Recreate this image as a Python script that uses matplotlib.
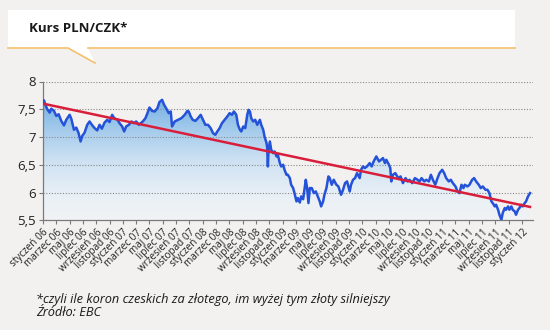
import numpy as np
import matplotlib
matplotlib.use("Agg")
import matplotlib.pyplot as plt
from matplotlib.colors import LinearSegmentedColormap
from matplotlib.patches import Polygon
from matplotlib.lines import Line2D

plt.rcParams['font.family'] = ['Open Sans', 'DejaVu Sans']

# PLN/CZK rate, x in months since January 2006
months = [0.0, 0.15, 0.35, 0.65, 1.0, 1.25, 1.65, 2.0, 2.35, 2.75, 3.15, 3.5, 4.0, 4.25,
          4.65, 5.0, 5.35, 5.65, 5.9, 6.25, 6.65, 7.0, 7.35, 7.75, 8.15, 8.5, 8.85, 9.25,
          9.65, 10.0, 10.4, 10.7, 11.2, 11.5, 11.9, 12.2, 12.5, 12.9, 13.3, 13.7, 14.0,
          14.4, 14.7, 15.0, 15.4, 15.7, 16.0, 16.4, 16.8, 17.2, 17.5, 17.9, 18.2, 18.5,
          18.9, 19.2, 19.4, 19.8, 20.3, 20.8, 21.3, 21.7, 21.9, 22.2, 22.5, 22.9, 23.3,
          23.7, 24.05, 24.4, 24.8, 25.2, 25.55, 25.9, 26.2, 26.55, 26.9, 27.3, 27.7,
          28.05, 28.4, 28.7, 29.05, 29.3, 29.6, 29.8, 30.1, 30.4, 30.7, 30.9, 31.1, 31.3,
          31.6, 31.9, 32.2, 32.6, 32.8, 33.1, 33.3, 33.6, 33.7, 33.8, 33.9, 34.1, 34.3,
          34.6, 34.8, 35.1, 35.3, 35.6, 35.8, 36.1, 36.3, 36.6, 36.8, 37.1, 37.3, 37.6,
          37.8, 38.1, 38.3, 38.6, 38.8, 39.1, 39.3, 39.5, 39.7, 39.9, 40.1, 40.4, 40.7,
          41.0, 41.3, 41.6, 41.8, 42.1, 42.3, 42.6, 42.9, 43.1, 43.4, 43.7, 44.1, 44.4,
          44.8, 45.1, 45.4, 45.7, 46.1, 46.3, 46.6, 46.9, 47.2, 47.6, 47.8, 48.1, 48.35,
          48.7, 49.1, 49.4, 49.7, 50.1, 50.5, 50.8, 51.1, 51.4, 51.6, 52.0, 52.2, 52.35,
          52.6, 52.95, 53.4, 53.75, 54.1, 54.5, 54.8, 55.1, 55.5, 55.9, 56.3, 56.6, 56.9,
          57.3, 57.6, 58.0, 58.3, 58.6, 58.96, 59.3, 59.6, 60.0, 60.3, 60.6, 61.0, 61.3,
          61.6, 62.0, 62.3, 62.6, 62.9, 63.2, 63.4, 63.8, 64.1, 64.5, 64.8, 65.1, 65.5,
          65.8, 66.1, 66.5, 66.8, 67.1, 67.4, 67.6, 67.9, 68.1, 68.4, 68.6, 68.9, 69.1,
          69.4, 69.6, 69.9, 70.1, 70.4, 70.6, 70.9, 71.1, 71.4, 71.6, 71.9, 72.1, 72.4,
          72.6, 72.9, 73.2]
rate = [7.62, 7.66, 7.58, 7.50, 7.44, 7.51, 7.47, 7.38, 7.41, 7.29, 7.21, 7.31, 7.40, 7.33,
        7.13, 7.17, 7.07, 6.92, 7.02, 7.08, 7.22, 7.28, 7.22, 7.16, 7.12, 7.22, 7.15, 7.26,
        7.31, 7.27, 7.40, 7.34, 7.31, 7.25, 7.19, 7.10, 7.19, 7.22, 7.28, 7.25, 7.28,
        7.22, 7.25, 7.28, 7.34, 7.43, 7.53, 7.47, 7.46, 7.52, 7.63, 7.67, 7.58, 7.52,
        7.43, 7.46, 7.19, 7.28, 7.31, 7.34, 7.40, 7.47, 7.46, 7.37, 7.31, 7.29, 7.34,
        7.40, 7.31, 7.22, 7.22, 7.16, 7.07, 7.04, 7.10, 7.16, 7.25, 7.31, 7.37,
        7.43, 7.40, 7.46, 7.40, 7.22, 7.13, 7.10, 7.19, 7.16, 7.40, 7.49, 7.46, 7.34,
        7.28, 7.31, 7.22, 7.31, 7.22, 7.13, 7.01, 6.89, 6.80, 6.47, 6.77, 6.92, 6.77,
        6.71, 6.74, 6.65, 6.68, 6.53, 6.47, 6.50, 6.41, 6.32, 6.32, 6.26, 6.14, 6.08,
        5.99, 5.84, 5.90, 5.82, 5.93, 5.88, 6.05, 6.23, 6.08, 5.81, 6.08, 6.08, 5.99,
        6.02, 5.93, 5.84, 5.75, 5.84, 5.96, 6.08, 6.29, 6.26, 6.14, 6.23, 6.14, 6.11,
        5.96, 6.05, 6.17, 6.20, 6.02, 6.14, 6.23, 6.26, 6.35, 6.26, 6.41, 6.47, 6.44,
        6.47, 6.53, 6.47, 6.56, 6.65, 6.56, 6.59, 6.62, 6.53, 6.59, 6.50, 6.44, 6.20,
        6.32, 6.35, 6.26, 6.29, 6.17, 6.26, 6.20, 6.23, 6.17, 6.26, 6.23, 6.20, 6.26,
        6.20, 6.23, 6.20, 6.32, 6.23, 6.14, 6.26, 6.35, 6.41, 6.35, 6.26, 6.20, 6.23,
        6.17, 6.11, 6.02, 5.99, 6.14, 6.08, 6.14, 6.11, 6.14, 6.23, 6.26, 6.20, 6.14,
        6.08, 6.11, 6.05, 6.05, 5.99, 5.84, 5.81, 5.75, 5.78, 5.69, 5.60, 5.51, 5.63,
        5.72, 5.69, 5.75, 5.69, 5.75, 5.69, 5.66, 5.60, 5.69, 5.72, 5.78, 5.75, 5.81,
        5.84, 5.93, 5.99]

month_names = ['styczeń', 'marzec', 'maj', 'lipiec', 'wrzesień', 'listopad']
tick_pos = list(range(0, 73, 2))
tick_labels = ['%s %02d' % (month_names[(m // 2) % 6], 6 + m // 12) for m in tick_pos]

title = 'Kurs PLN/CZK*'
note = '*czyli ile koron czeskich za złotego, im wyżej tym złoty silniejszy'
source = 'Źródło: EBC'

bg = '#f3f1ef'
fig = plt.figure(figsize=(5.5, 3.3), dpi=100, facecolor=bg)

# header box with a small speech-bubble tail
W, H = 550.0, 330.0
def fc(x, y):
    return (x / W, 1 - y / H)

box = Polygon([fc(8, 10), fc(515, 10), fc(515, 48), fc(88, 48), fc(95, 63),
               fc(68, 48), fc(8, 48)], closed=True, transform=fig.transFigure,
              facecolor='white', edgecolor='none', zorder=1)
fig.add_artist(box)
orange = '#f3c06a'
for xs, ys in [((8, 68, 95), (48, 48, 63)), ((88, 515), (48, 48))]:
    pts = [fc(x, y) for x, y in zip(xs, ys)]
    fig.add_artist(Line2D([p[0] for p in pts], [p[1] for p in pts],
                          transform=fig.transFigure, color=orange, lw=1.2, zorder=2))
fig.text(29 / W, 1 - 29 / H, title, fontsize=9.5, fontweight='bold',
         color='#1a1a1a', va='center', ha='left')

ax = fig.add_axes([43 / W, 1 - 220.3 / H, 490 / W, 138.8 / H])
ax.set_facecolor('none')
x = np.array(months)
y = np.array(rate)
x0, x1 = 0, 73.65
ax.set_xlim(x0, x1)
ax.set_ylim(5.5, 8)

# vertical gradient clipped to the area under the rate
cmap = LinearSegmentedColormap.from_list('fill', [
    (0.0, '#f1f3f5'), (0.2, '#e9f0f6'), (0.48, '#cde1f2'),
    (0.72, '#a5cbec'), (1.0, '#6fade1')])
grad = np.linspace(0, 1, 256).reshape(-1, 1)
img = ax.imshow(grad, cmap=cmap, origin='lower', aspect='auto',
                extent=[x0, x1, 5.5, 7.75], zorder=1)
poly = ax.fill_between(x, y, 5.5, facecolor='none', edgecolor='none')
img.set_clip_path(poly.get_paths()[0], transform=ax.transData)

for v in [6, 6.5, 7, 7.5, 8]:
    ax.axhline(v, color='#8a8a8a', lw=0.8, ls=(0, (1, 1.5)), zorder=2)

ax.plot(x, y, color='#2452d8', lw=1.8, zorder=3)

coef = np.polyfit(x, y, 1)
tx = np.array([x[0], x[-1]])
ax.plot(tx, np.polyval(coef, tx), color='#d81e3a', lw=1.8, zorder=4)

ax.set_yticks([5.5, 6, 6.5, 7, 7.5, 8])
ax.set_yticklabels(['5,5', '6', '6,5', '7', '7,5', '8'], fontsize=9.5, color='#222222')
ax.set_xticks(tick_pos)
ax.set_xticklabels(tick_labels, rotation=45, ha='right', va='top',
                   rotation_mode='anchor', fontsize=7.2, color='#222222')
ax.tick_params(axis='y', length=3, color='#7a7a7a', pad=2)
ax.tick_params(axis='x', length=3, color='#7a7a7a', pad=2)
for s in ['top', 'right']:
    ax.spines[s].set_visible(False)
for s in ['left', 'bottom']:
    ax.spines[s].set_color('#7a7a7a')
    ax.spines[s].set_linewidth(0.9)

fig.text(36 / W, 1 - 299 / H, note, fontsize=9.2, style='italic', color='#1a1a1a',
         va='center', ha='left')
fig.text(36 / W, 1 - 313 / H, source, fontsize=9.2, style='italic', color='#1a1a1a',
         va='center', ha='left')

fig.savefig('out.png', dpi=100, facecolor=bg)
